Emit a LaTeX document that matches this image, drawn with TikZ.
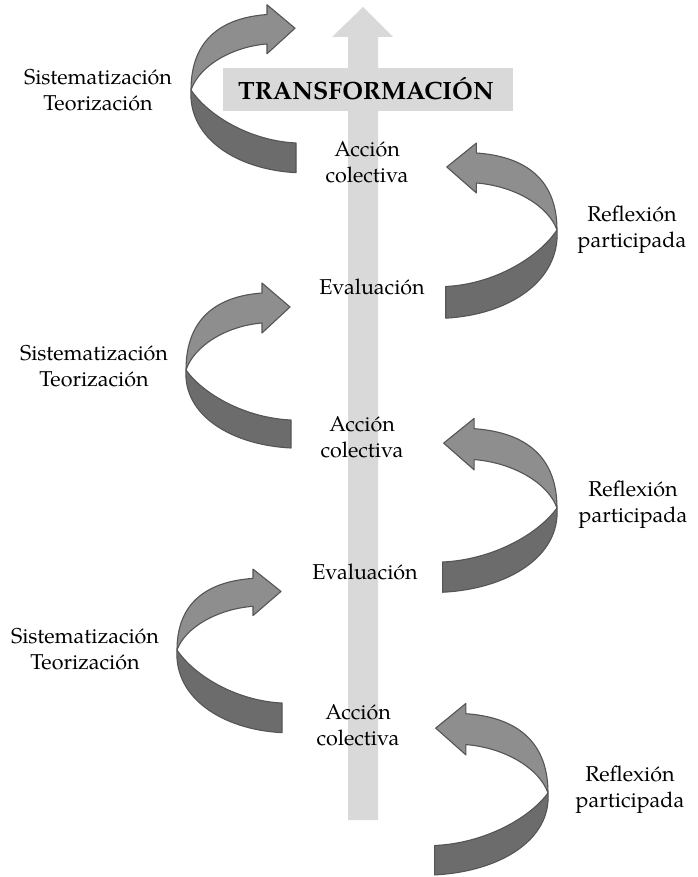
\documentclass[tikz,border=0pt]{standalone}
\usepackage{fontspec}
\setmainfont{TeX Gyre Pagella}
\begin{document}
\definecolor{barcol}{HTML}{D9D9D9}
\definecolor{lightband}{HTML}{8E8E8E}
\definecolor{darkband}{HTML}{6C6C6C}
\definecolor{bandedge}{HTML}{555555}
\tikzset{
  lightpart/.style={fill=lightband, draw=bandedge, line width=1.1pt, line join=round},
  darkpart/.style={fill=darkband, draw=bandedge, line width=1.1pt, line join=round},
  lbl/.style={align=center, inner sep=0pt, font=\fontsize{21.5}{26}\selectfont},
}
\newcommand{\swirl}[5]{%
  \begin{scope}[shift={(#1,#2)}, xscale=#3, yscale=#5]
    \filldraw[darkpart] (0,0) .. controls (-3,45) and (45,75) .. (105,78) -- (105,50) .. controls (60,48) and (18,25) .. (0,0) -- cycle;
  \end{scope}
  \begin{scope}[shift={(#1,#2)}, xscale=#3, yscale=#4]
    \filldraw[lightpart] (76,-47) -- (76,-37) -- (104,-63) -- (76,-87) -- (76,-77) .. controls (35,-74) and (0,-55) .. (0,0) .. controls (8,-24) and (40,-44) .. (76,-47) -- cycle;
  \end{scope}}
\begin{tikzpicture}[x=1pt, y=-1pt]
\useasboundingbox (0,0) rectangle (697,877);
% central arrow
\fill[barcol] (348,820) -- (348,37) -- (332,37) -- (363,7) -- (393,37) -- (378,37) -- (378,820) -- cycle;
\fill[barcol] (223,68) rectangle (513,111);
\node[font=\fontsize{25}{30}\selectfont\bfseries, inner sep=0pt] (tr) at (366,89) {TRANSFORMACIÓN};
% swirls
\swirl{191}{90}{1}{0.98}{1.06}
\swirl{186}{370}{1}{1}{1}
\swirl{177}{650}{1}{0.93}{1.06}
\swirl{557}{230}{-1.06}{1.0}{1.13}
\swirl{557}{508}{-1.09}{1.03}{1.08}
\swirl{548}{793}{-1.08}{1.03}{1.05}
% labels
\node[lbl] (s1) at (98,90) {Sistematización\\Teorización};
\node[lbl] (s2) at (94,366) {Sistematización\\Teorización};
\node[lbl] (s3) at (85,649) {Sistematización\\Teorización};
\node[lbl] (a1) at (367,162) {Acción\\colectiva};
\node[lbl] (a2) at (362,437) {Acción\\colectiva};
\node[lbl] (a3) at (358,725) {Acción\\colectiva};
\node[lbl] (e1) at (372,287) {Evaluación};
\node[lbl] (e2) at (365,572) {Evaluación};
\node[lbl] (r1) at (632,230) {Reflexión\\participada};
\node[lbl] (r2) at (633,505) {Reflexión\\participada};
\node[lbl] (r3) at (630,790) {Reflexión\\participada};
\end{tikzpicture}
\end{document}
